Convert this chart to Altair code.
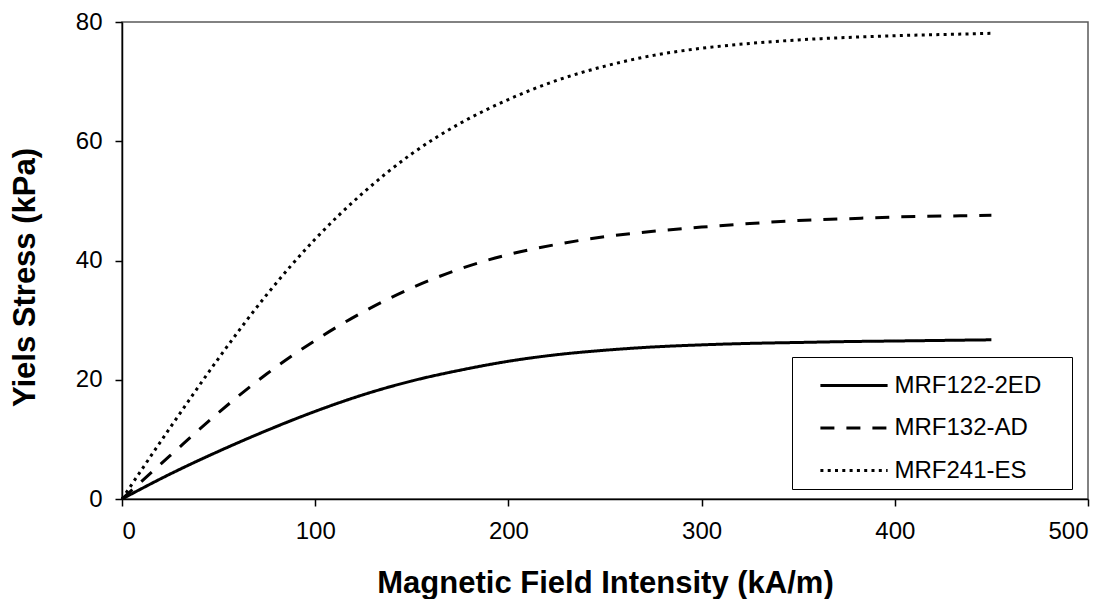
import altair as alt
import pandas as pd

field = [0, 25, 50, 75, 100, 125, 150, 175, 200, 225, 250, 275, 300, 325, 350, 375, 400, 425, 450]
mrf122 = [0, 4.2, 8.0, 11.5, 14.7, 17.5, 19.8, 21.6, 23.1, 24.2, 24.95, 25.5, 25.85, 26.1, 26.25, 26.4, 26.5, 26.6, 26.7]
mrf132 = [0, 7.3, 14.5, 21.0, 26.6, 31.4, 35.4, 38.6, 41.0, 42.7, 44.0, 44.9, 45.6, 46.2, 46.7, 47.0, 47.3, 47.45, 47.6]
mrf241 = [0, 12.0, 23.6, 34.3, 43.6, 51.4, 57.9, 63.0, 67.0, 70.2, 72.6, 74.4, 75.6, 76.4, 77.0, 77.4, 77.7, 77.9, 78.1]
series_names = ["MRF122-2ED", "MRF132-AD", "MRF241-ES"]

rows = []
for name, vals in zip(series_names, [mrf122, mrf132, mrf241]):
    for h, v in zip(field, vals):
        rows.append({"H": h, "stress": v, "fluid": name})
df = pd.DataFrame(rows)

FONT = "Liberation Sans"

chart = alt.Chart(df).mark_line(interpolate="monotone", color="black", strokeWidth=3).encode(
    x=alt.X("H:Q", scale=alt.Scale(domain=[0, 500], nice=False),
            axis=alt.Axis(values=[0, 100, 200, 300, 400, 500], title="Magnetic Field Intensity (kA/m)",
                          titlePadding=25)),
    y=alt.Y("stress:Q", scale=alt.Scale(domain=[0, 80], nice=False),
            axis=alt.Axis(values=[0, 20, 40, 60, 80], title="Yiels Stress (kPa)", titlePadding=34,
                          titleY=255)),
    strokeDash=alt.StrokeDash("fluid:N",
        scale=alt.Scale(domain=series_names, range=[[1, 0], [14, 12], [3, 4.3]]),
        legend=alt.Legend(orient="none", legendX=670, legendY=335, title=" ",
                          titleOrient="right", titlePadding=25, titleFontSize=24, titleColor="white",
                          symbolType="M-1.6,0H1.6", symbolSize=1764, symbolStrokeWidth=3,
                          symbolStrokeColor="black", symbolFillColor="transparent", symbolOffset=33.5,
                          labelFont=FONT, labelFontSize=24, labelColor="#000", labelOffset=18,
                          labelLimit=400,
                          strokeColor="#000", fillColor="white", padding=6, rowPadding=7.5)),
).properties(
    width=966, height=477,
    autosize=alt.AutoSizeParams(type="none"),
    padding={"left": 114, "top": 14, "right": 22, "bottom": 100},
).configure_view(
    stroke="#595959", strokeWidth=1.5
).configure_axis(
    grid=False, domainColor="black", domainWidth=1.5, tickColor="black", tickSize=7, tickWidth=1.5,
    labelFont=FONT, labelFontSize=24, labelColor="#000", labelPadding=13,
    titleFont=FONT, titleFontSize=31, titleFontWeight="bold", titleColor="#000",
)

chart.save("out.html", embed_options={"renderer": "svg", "actions": False})
